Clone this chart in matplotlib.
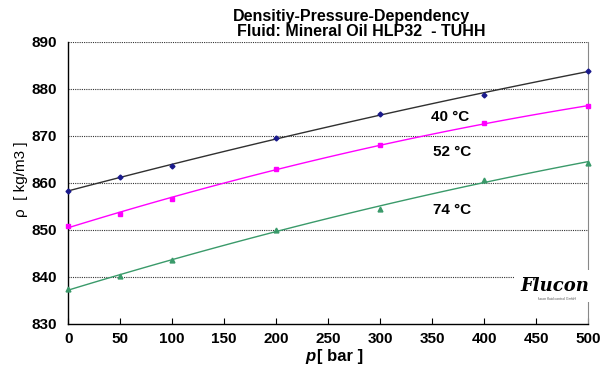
import numpy as np
import matplotlib.pyplot as plt

plt.rcParams["font.family"] = ["Liberation Sans", "DejaVu Sans"]

# pressure [bar]
pressure = [0, 50, 100, 200, 300, 400, 500]

# density [kg/m3]
rho_40 = [858.3, 861.3, 863.6, 869.6, 874.7, 878.7, 883.9]
rho_52 = [850.9, 853.4, 856.6, 863.0, 868.1, 872.7, 876.3]
rho_74 = [837.4, 840.2, 843.6, 850.0, 854.5, 860.7, 864.3]

series = [
    ("40 °C", rho_40, "#1a1a8c", "#303030", "D", 2.5),
    ("52 °C", rho_52, "#ff00ff", "#ff00ff", "s", 3.5),
    ("74 °C", rho_74, "#3a9a6a", "#3a9a6a", "^", 3.5),
]
label_pos = [(367, 874.0), (369, 866.6), (369, 854.3)]

x_ticks = [0, 50, 100, 150, 200, 250, 300, 350, 400, 450, 500]
y_ticks = [830, 840, 850, 860, 870, 880, 890]


def main():
    fig = plt.figure(figsize=(6.14, 3.74), dpi=100)
    ax = fig.add_axes([0.111, 0.134, 0.847, 0.754])

    xs = np.array(pressure)
    xfit = np.linspace(0, 500, 101)
    for (name, vals, mcol, lcol, mk, ms), (tx, ty) in zip(series, label_pos):
        # polynomial trendline, 2nd order
        coef = np.polyfit(xs, vals, 2)
        ax.plot(xfit, np.polyval(coef, xfit), color=lcol, lw=1.0, zorder=3)
        ax.plot(xs, vals, ls="none", marker=mk, color=mcol, ms=ms, zorder=4,
                clip_on=False)
        ax.text(tx, ty, name, ha="center", va="center", fontsize=11,
                fontweight="bold")

    ax.set_xlim(0, 500)
    ax.set_ylim(830, 890)
    ax.set_xticks(x_ticks)
    ax.set_yticks(y_ticks)
    ax.tick_params(axis="x", direction="in", length=4, labelsize=11, pad=6)
    ax.tick_params(axis="y", length=0, labelsize=11, pad=8)
    for lbl in ax.get_xticklabels() + ax.get_yticklabels():
        lbl.set_fontweight("bold")

    for y in y_ticks[1:]:
        ax.axhline(y, color="#333333", lw=0.8, ls=(0, (1, 1)), zorder=1)
    ax.spines["top"].set_visible(False)
    ax.spines["right"].set_color("#888888")
    ax.spines["left"].set_linewidth(1.0)
    ax.spines["bottom"].set_linewidth(1.0)

    # logo
    ax.text(468, 838.0, "Flucon", fontsize=13, fontstyle="italic",
            fontweight="bold", fontfamily="DejaVu Serif", ha="center",
            va="center", zorder=5,
            bbox=dict(facecolor="white", edgecolor="none", pad=5))
    ax.text(470, 835.4, "flucon fluid control GmbH", fontsize=2.5,
            ha="center", va="center", color="#555555", zorder=6)

    fig.text(0.572, 0.945, "Densitiy-Pressure-Dependency", ha="center",
             fontsize=11.5, fontweight="bold")
    fig.text(0.588, 0.905, "Fluid: Mineral Oil HLP32  - TUHH", ha="center",
             fontsize=11.5, fontweight="bold")

    fig.text(0.497, 0.035, "p", fontsize=12, fontweight="bold",
             fontstyle="italic")
    fig.text(0.517, 0.035, "[ bar ]", fontsize=12, fontweight="bold")
    fig.text(0.035, 0.52, "ρ  [ kg/m3 ]", fontsize=11, rotation=90,
             ha="center", va="center")

    fig.savefig("out.png", dpi=100)


if __name__ == "__main__":
    main()
